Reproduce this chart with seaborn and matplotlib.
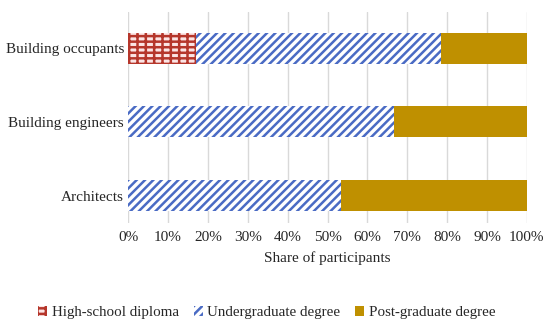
import numpy as np
import pandas as pd
import matplotlib
matplotlib.use("Agg")
import matplotlib.pyplot as plt
import seaborn as sns
from matplotlib.patches import Patch

# data (shares in %)
groups = ["Building occupants", "Building engineers", "Architects"]
high_school = [17.0, 0.0, 0.0]
undergrad = [61.5, 66.7, 53.3]
postgrad = [21.5, 33.3, 46.7]
xticks = [0, 10, 20, 30, 40, 50, 60, 70, 80, 90, 100]

sns.set_theme(style="white")
plt.rcParams["font.family"] = ["Liberation Serif", "DejaVu Serif"]
plt.rcParams["hatch.linewidth"] = 1.8

GOLD = "#BF9000"
BLUE = "#4A6BC4"
BRICK = "#B5362B"
PINK = "#FBE4E4"

df = pd.DataFrame({
    "group": groups,
    "hs": high_school,
    "ug": undergrad,
    "pg": postgrad,
})
df["hs_ug"] = df["hs"] + df["ug"]
df["total"] = df["hs_ug"] + df["pg"]

fig = plt.figure(figsize=(5.5, 3.27), dpi=100)
ax = fig.add_axes([0.233, 0.318, 0.725, 0.645])

# layered cumulative bars
sns.barplot(data=df, x="total", y="group", orient="h", color=GOLD, saturation=1,
            width=0.42, linewidth=0, ax=ax, zorder=2)
sns.barplot(data=df, x="hs_ug", y="group", orient="h", color="white", saturation=1,
            width=0.42, hatch="////", edgecolor=BLUE, linewidth=0, ax=ax, zorder=3)
sns.barplot(data=df, x="hs", y="group", orient="h", color=PINK, saturation=1,
            width=0.42, hatch="---||", edgecolor=BRICK, linewidth=0, ax=ax, zorder=4)

ax.set_xlim(0, 100)
ax.set_ylim(2.37, -0.49)
ax.set_xticks(xticks)
ax.set_xticklabels([f"{t}%" for t in xticks], fontsize=11)
ax.tick_params(axis="y", labelsize=11, length=0, pad=3)
ax.tick_params(axis="x", length=0, pad=6)
ax.xaxis.grid(True, color="#D9D9D9", linewidth=1, zorder=0)
ax.set_axisbelow(True)
for s in ax.spines.values():
    s.set_visible(False)
ax.set_ylabel("")
ax.set_xlabel("Share of participants", fontsize=11, labelpad=5)

handles = [
    Patch(facecolor=PINK, edgecolor=BRICK, hatch="---||", linewidth=0, label="High-school diploma"),
    Patch(facecolor="white", edgecolor=BLUE, hatch="////", linewidth=0, label="Undergraduate degree"),
    Patch(facecolor=GOLD, edgecolor=GOLD, linewidth=0, label="Post-graduate degree"),
]
fig.legend(handles=handles, loc="center", bbox_to_anchor=(0.485, 0.043), ncol=3,
           frameon=False, fontsize=10.8, handlelength=0.6, handleheight=0.6,
           handletextpad=0.3, columnspacing=1.0)

fig.savefig("out.png", dpi=100)
